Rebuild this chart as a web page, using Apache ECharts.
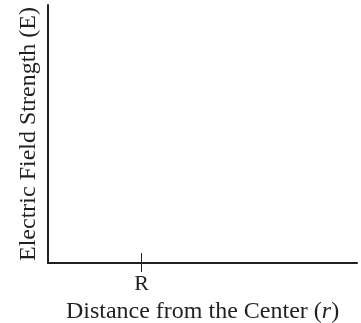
<!DOCTYPE html>
<html><head><meta charset="utf-8">
<script src="https://cdn.jsdelivr.net/npm/echarts@6/dist/echarts.min.js"></script>
<style>html,body{margin:0;padding:0;background:#fff}#c{width:361px;height:323px}</style>
</head><body><div id="c"></div>
<script>
const xRange = [0, 3.3];
const tickValues = [1];
const tickLabels = ['R'];
const xTitle = ['Distance from the Center (', 'r', ')'];
const yTitle = 'Electric Field Strength (E)';
const ink = '#231f20';
const font = 'Liberation Serif';
const chart = echarts.init(document.getElementById('c'), null, {renderer: 'canvas'});
chart.setOption({
  animation: false,
  grid: {left: 48, right: 4, top: 5, bottom: 60, outerBoundsMode: 'none', containLabel: false},
  xAxis: [{
    type: 'value', min: xRange[0], max: xRange[1],
    axisLine: {show: true, lineStyle: {color: ink, width: 2}},
    axisTick: {show: true, inside: true, length: 10, customValues: tickValues, lineStyle: {color: ink, width: 1}},
    axisLabel: {show: false},
    splitLine: {show: false},
    name: '{a|' + xTitle[0] + '}{b|' + xTitle[1] + '}{a|' + xTitle[2] + '}',
    nameLocation: 'middle', nameGap: 37,
    nameTextStyle: {rich: {
      a: {fontFamily: font, fontSize: 24, color: ink},
      b: {fontFamily: font, fontSize: 24, color: ink, fontStyle: 'italic'}
    }}
  }, {
    type: 'value', min: xRange[0], max: xRange[1], position: 'bottom',
    axisLine: {show: false},
    axisTick: {show: true, inside: false, length: 9, customValues: tickValues, lineStyle: {color: ink, width: 1}},
    axisLabel: {show: true, customValues: tickValues, margin: 10, fontFamily: font, fontSize: 22, color: ink,
      formatter: v => tickLabels[tickValues.indexOf(v)] || ''},
    splitLine: {show: false}
  }],
  yAxis: {
    type: 'value', min: 0, max: 1,
    axisLine: {show: true, lineStyle: {color: ink, width: 2}},
    axisTick: {show: false}, axisLabel: {show: false}, splitLine: {show: false},
    name: yTitle, nameLocation: 'middle', nameGap: 7,
    nameTextStyle: {fontFamily: font, fontSize: 24, color: ink}
  },
  series: []
});
</script></body></html>
